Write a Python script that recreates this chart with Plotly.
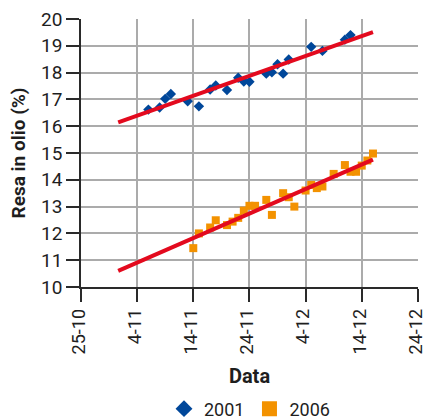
import pandas as pd
import plotly.graph_objects as go

# Sampling days (day-month) and oil yield (%) for the two seasons
days_2001 = ["11-06", "11-08", "11-09", "11-10", "11-13", "11-15", "11-17",
             "11-18", "11-20", "11-22", "11-23", "11-24", "11-27", "11-28",
             "11-29", "11-30", "12-01", "12-05", "12-07", "12-11", "12-12"]
resa_2001 = [16.62, 16.70, 17.02, 17.20, 16.93, 16.74, 17.37,
             17.52, 17.35, 17.81, 17.67, 17.66, 17.96, 18.01,
             18.31, 17.96, 18.49, 18.96, 18.81, 19.23, 19.40]

days_2006 = ["11-14", "11-15", "11-17", "11-18", "11-20", "11-21", "11-22",
             "11-23", "11-24", "11-25", "11-27", "11-28", "11-30", "12-01",
             "12-02", "12-04", "12-05", "12-06", "12-07", "12-09", "12-11",
             "12-12", "12-13", "12-14", "12-15", "12-16"]
resa_2006 = [11.45, 12.00, 12.22, 12.49, 12.31, 12.44, 12.58,
             12.85, 13.03, 13.03, 13.25, 12.69, 13.50, 13.35,
             13.00, 13.60, 13.81, 13.69, 13.75, 14.22, 14.55,
             14.30, 14.30, 14.53, 14.72, 14.98]

# Linear trend lines (start / end of each line)
trend_days = ["10-31 15:00", "12-16 00:00"]
trend_2001 = [16.14, 19.51]
trend_2006 = [10.60, 14.75]

# Axis settings
AXIS_YEAR = 2001
x_start, x_end = "10-25", "12-24"
tick_step_days = 10
y_min, y_max = 10, 20

FONT = "Roboto, Noto Sans, sans-serif"
BLUE = "#00479a"
ORANGE = "#f39200"
RED = "#e30a1e"
GRID = "#ababab"
AXIS = "#2a2a2a"


def to_date(md):
    return f"{AXIS_YEAR}-{md}"


tick_dates = pd.date_range(to_date(x_start), to_date(x_end),
                           freq=f"{tick_step_days}D")
tick_vals = [d.strftime("%Y-%m-%d") for d in tick_dates]
tick_text = [f"{d.day}-{d.month}" for d in tick_dates]

fig = go.Figure()

fig.add_trace(go.Scatter(
    x=[to_date(d) for d in days_2001], y=resa_2001, mode="markers",
    marker=dict(symbol="diamond", size=8, color=BLUE),
    showlegend=False, cliponaxis=False))
fig.add_trace(go.Scatter(
    x=[to_date(d) for d in days_2006], y=resa_2006, mode="markers",
    marker=dict(symbol="square", size=8, color=ORANGE),
    showlegend=False, cliponaxis=False))

for vals in (trend_2001, trend_2006):
    fig.add_trace(go.Scatter(
        x=[to_date(d) for d in trend_days], y=vals, mode="lines",
        line=dict(color=RED, width=4), showlegend=False, hoverinfo="skip"))

# Legend entries with larger symbols
fig.add_trace(go.Scatter(x=[None], y=[None], mode="markers", name="2001",
                         marker=dict(symbol="diamond", size=13, color=BLUE)))
fig.add_trace(go.Scatter(x=[None], y=[None], mode="markers", name="2006",
                         marker=dict(symbol="square", size=15, color=ORANGE)))

fig.update_layout(
    width=427, height=419,
    margin=dict(l=81, r=9, t=19, b=132, autoexpand=False),
    paper_bgcolor="white", plot_bgcolor="white",
    font=dict(family=FONT, size=19, color="#1e1e1e"),
    legend=dict(orientation="h", x=0.5, xanchor="center",
                y=-0.455, yanchor="middle",
                font=dict(size=18), itemwidth=30, tracegroupgap=0),
)

fig.update_xaxes(
    type="date", automargin=False,
    range=[to_date(x_start), to_date(x_end) + " 00:30"],
    tickmode="array", tickvals=tick_vals, ticktext=tick_text,
    tickangle=-90, ticklabeloverflow="allow", ticklabelshift=-2,
    ticks="outside", ticklen=13, tickwidth=1.5, tickcolor=AXIS,
    showline=True, linecolor=AXIS, linewidth=1.5,
    showgrid=True, gridcolor=GRID, gridwidth=1.5,
    title=dict(text="<b>Data</b>", font=dict(size=20), standoff=16),
    tickfont=dict(size=18),
)
fig.update_yaxes(
    range=[y_min, y_max], dtick=1, automargin=False,
    ticks="outside", ticklen=13, tickwidth=1.5, tickcolor=AXIS,
    showline=True, linecolor=AXIS, linewidth=1.5,
    showgrid=True, gridcolor=GRID, gridwidth=1.5,
    zeroline=False,
    title=dict(text="<b>Resa in olio (%)</b>", font=dict(size=19), standoff=10),
    tickfont=dict(size=19),
)

fig.write_html("out.html")
